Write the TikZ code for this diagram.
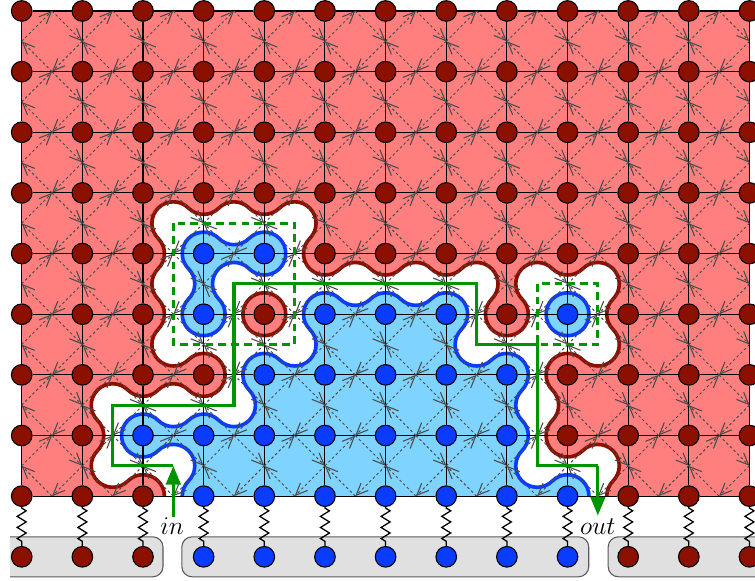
\documentclass[tikz,border=0pt]{standalone}
\usetikzlibrary{arrows.meta,decorations.pathmorphing}
\pgfdeclarelayer{under}
\pgfsetlayers{under,main}
\definecolor{siteRed}{RGB}{139,16,0}
\definecolor{siteBlue}{RGB}{10,60,255}
\definecolor{fillRed}{RGB}{255,127,127}
\definecolor{fillBlue}{RGB}{127,212,255}
\definecolor{boxGray}{RGB}{224,224,224}
\definecolor{routeGreen}{RGB}{0,148,0}
\definecolor{medialGray}{RGB}{75,75,75}
\newcount\angcnt
\def\Rad{.35355}
\def\redlist{135,-180,90,-180,90,-90,270,-180,90,-90,90,-180,90,-90,90,-180,180,-90,90,-90,90,-180,270,-180,90,-180,90,-180,180,-90,180,-180,45}
\def\bluelist{135,-180,90,-90,180,-180,180,-90,90,-90,180,-180,180,-180,90,-90,270,-180,45}
\def\smalllist{270,-180,270,-90,180,-90}
\tikzset{
  sitebase/.style={circle,draw=black,line width=.5pt,minimum size=.34cm,inner sep=0pt},
  redsite/.style={sitebase,fill=siteRed},
  bluesite/.style={sitebase,fill=siteBlue},
  redline/.style={draw=siteRed,line width=1.7pt},
  blueline/.style={draw=siteBlue,line width=1.7pt},
  gridedge/.style={draw=black,line width=.5pt},
  medial/.style={draw=medialGray,line width=.45pt,dash pattern=on 1.2pt off 1.2pt,-{Straight Barb[length=5.6pt,width=4.8pt,line width=.5pt]}},
  springline/.style={draw=black,line width=.6pt,decorate,decoration={zigzag,amplitude=2.1pt,segment length=5.2pt,pre length=.5pt,post length=.5pt}},
  frame/.style={draw=black!65,fill=boxGray,line width=.5pt,rounded corners=.17cm},
  route/.style={draw=routeGreen,line width=1.5pt},
  routearrow/.style={route,-{Triangle[length=.31cm,width=.24cm]}},
  blockbox/.style={draw=routeGreen,line width=1.5pt,dash pattern=on 3.6pt off 2.4pt}
}
\begin{document}
\begin{tikzpicture}
\useasboundingbox (-.358,.181) rectangle (12.091,-9.399);
% sites
\foreach \r/\reds/\blues in {
  0/{0,1,2,3,4,5,6,7,8,9,10,11,12}/{},
  1/{0,1,2,3,4,5,6,7,8,9,10,11,12}/{},
  2/{0,1,2,3,4,5,6,7,8,9,10,11,12}/{},
  3/{0,1,2,3,4,5,6,7,8,9,10,11,12}/{},
  4/{0,1,2,5,6,7,8,9,10,11,12}/{3,4},
  5/{0,1,2,4,8,10,11,12}/{3,5,6,7,9},
  6/{0,1,2,3,9,10,11,12}/{4,5,6,7,8},
  7/{0,1,9,10,11,12}/{2,3,4,5,6,7,8},
  8/{0,1,2,10,11,12}/{3,4,5,6,7,8,9}}{
  \foreach \i in \reds {\node[redsite] (s-\i-\r) at (\i,-\r) {};}
  \foreach \i in \blues {\node[bluesite] (s-\i-\r) at (\i,-\r) {};}
}
% boundary sites
\foreach \i in {0,1,2,10,11,12} {\node[redsite] (t-\i) at (\i,-9) {};}
\foreach \i in {3,...,9} {\node[bluesite] (t-\i) at (\i,-9) {};}
% labels
\node[inner sep=0pt] (inlabel) at (2.48,-8.5) {\fontsize{12}{14}\selectfont$in$};
\node[inner sep=0pt] (outlabel) at (9.5,-8.5) {\fontsize{12}{14}\selectfont$out$};
% route coordinates
\coordinate (inA) at (2.5,-8.35);
\coordinate (inB) at (2.5,-7.5);
\coordinate (outA) at (9.5,-7.5);
\coordinate (outB) at (9.5,-8.32);
\begin{pgfonlayer}{under}
  % boundary blocks
  \draw[frame] (-.193,-8.67) -- (2.33,-8.67) -- (2.33,-9.33) -- (-.193,-9.33);
  \draw[frame] (5,-8.67) -- (2.64,-8.67) -- (2.64,-9.33) -- (9.35,-9.33) -- (9.35,-8.67) -- cycle;
  \draw[frame] (12.2,-8.67) -- (9.67,-8.67) -- (9.67,-9.33) -- (12.2,-9.33);
  % regions
  \fill[fillRed] (0,0) rectangle (12,-8);
  \global\angcnt=0
  \fill[white] (2.35355,-8) foreach \d in \redlist {arc[start angle=\the\angcnt,delta angle=\d,radius=\Rad]\pgfextra{\global\advance\angcnt by \d\relax\global\advance\angcnt by 180\relax}} -- cycle;
  \global\angcnt=0
  \path[redline] (2.35355,-8) foreach \d in \redlist {arc[start angle=\the\angcnt,delta angle=\d,radius=\Rad]\pgfextra{\global\advance\angcnt by \d\relax\global\advance\angcnt by 180\relax}};
  \path[redline,fill=fillRed] (4,-5) circle (\Rad);
  \global\angcnt=0
  \path[blueline,fill=fillBlue] (9.35355,-8) foreach \d in \bluelist {arc[start angle=\the\angcnt,delta angle=\d,radius=\Rad]\pgfextra{\global\advance\angcnt by \d\relax\global\advance\angcnt by 180\relax}};
  \global\angcnt=135
  \path[blueline,fill=fillBlue] (2.75,-4.75) foreach \d in \smalllist {arc[start angle=\the\angcnt,delta angle=\d,radius=\Rad]\pgfextra{\global\advance\angcnt by \d\relax\global\advance\angcnt by 180\relax}} -- cycle;
  \path[blueline,fill=fillBlue] (9,-5) circle (\Rad);
  % lattice edges
  \foreach \r in {0,...,8}{
    \foreach \i [evaluate=\i as \j using int(\i+1)] in {0,...,11}{\path[gridedge] (s-\i-\r) -- (s-\j-\r);}
  }
  \foreach \i in {0,...,12}{
    \foreach \r [evaluate=\r as \q using int(\r+1)] in {0,...,7}{\path[gridedge] (s-\i-\r) -- (s-\i-\q);}
  }
  % medial lattice
  \foreach \i in {0,...,11}{
    \foreach \r in {0,...,7}{
      \path[medial] (\i,-\r-.5) -- (\i+.5,-\r);
      \path[medial] (\i+1,-\r-.5) -- (\i+.5,-\r-1);
      \path[medial] (\i+.5,-\r) -- (\i+1,-\r-.5);
      \path[medial] (\i+.5,-\r-1) -- (\i,-\r-.5);
    }
  }
  % springs
  \foreach \i in {0,...,12}{\path[springline] (s-\i-8) -- (t-\i);}
  % blocks and route
  \path[blockbox] (2.5,-3.5) rectangle (4.5,-5.5);
  \path[blockbox] (8.5,-4.5) rectangle (9.5,-5.5);
  \path[route] (inB) -- (1.5,-7.5) -- (1.5,-6.5) -- (3.5,-6.5) -- (3.5,-4.5) -- (7.5,-4.5) -- (7.5,-5.5) -- (8.5,-5.5) -- (8.5,-7.5) -- (outA);
  \path[routearrow] (inA) -- (inB);
  \path[routearrow] (outA) -- (outB);
\end{pgfonlayer}
\end{tikzpicture}
\end{document}
